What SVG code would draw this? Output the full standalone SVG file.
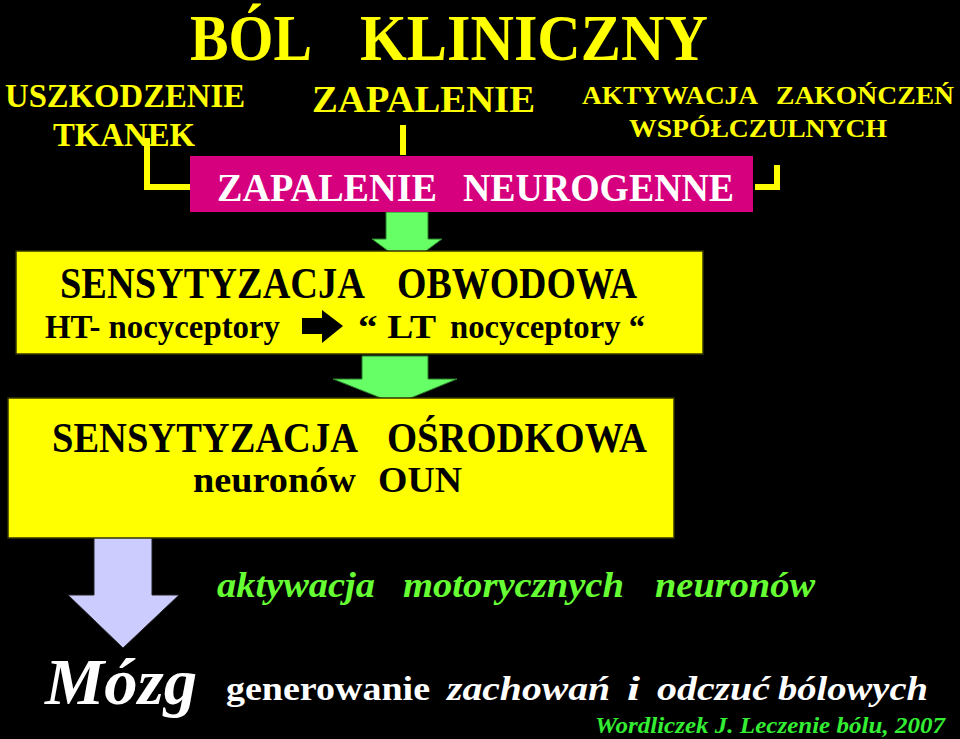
<svg xmlns="http://www.w3.org/2000/svg" width="960" height="739" viewBox="0 0 960 739" font-family="'Liberation Serif', 'DejaVu Serif', serif">
<style>
text{font-weight:bold}
.y{fill:#FFFF00}
.w{fill:#FFFFFF}
.k{fill:#000000}
.g{fill:#66FF33;font-style:italic}
.it{font-style:italic}
.box{fill:#FFFF00;stroke:#333300;stroke-width:1.5}
.garr{fill:#66FF66;stroke:#2a7a2a;stroke-width:1}
.conn{fill:none;stroke:#FFFF00;stroke-width:6}
</style>
<rect width="960" height="739" fill="#000"/>
<g id="title">
<text class="y" x="190" y="60" font-size="66" textLength="122" lengthAdjust="spacingAndGlyphs">BÓL</text>
<text class="y" x="360" y="60" font-size="66" textLength="348" lengthAdjust="spacingAndGlyphs">KLINICZNY</text>
</g>
<g id="uszkodzenie">
<text class="y" x="5" y="107" font-size="34" textLength="240" lengthAdjust="spacingAndGlyphs">USZKODZENIE</text>
<text class="y" x="53" y="146" font-size="34" textLength="142" lengthAdjust="spacingAndGlyphs">TKANEK</text>
</g>
<g id="zapalenie">
<text class="y" x="312" y="112" font-size="38" textLength="223" lengthAdjust="spacingAndGlyphs">ZAPALENIE</text>
</g>
<g id="aktywacja-zakonczen">
<text class="y" x="582" y="104" font-size="25" textLength="176" lengthAdjust="spacingAndGlyphs">AKTYWACJA</text>
<text class="y" x="776" y="104" font-size="25" textLength="178" lengthAdjust="spacingAndGlyphs">ZAKOŃCZEŃ</text>
<text class="y" x="629" y="137" font-size="25" textLength="258" lengthAdjust="spacingAndGlyphs">WSPÓŁCZULNYCH</text>
</g>
<g id="connectors">
<path class="conn" d="M147 138 V187 H190"/>
<path class="conn" d="M403 125 V155"/>
<path class="conn" d="M755 187 H777 V165"/>
<polygon class="garr" points="386,212 428,212 428,239 442,239 407,265 372,239 386,239"/>
<polygon class="garr" points="362,356 428,356 428,379 457,379 396,404 333,379 362,379"/>
<polygon fill="#CCCCFF" stroke="#222" stroke-width="1" points="94,537 152,537 152,595 179,595 123,648 68,595 94,595"/>
</g>
<g id="zapalenie-neurogenne">
<rect x="190" y="156" width="563" height="56" fill="#D6007F"/>
<text class="w" x="217" y="201" font-size="40" textLength="220" lengthAdjust="spacingAndGlyphs">ZAPALENIE</text>
<text class="w" x="463" y="201" font-size="40" textLength="271" lengthAdjust="spacingAndGlyphs">NEUROGENNE</text>
</g>
<g id="sensytyzacja-obwodowa">
<rect class="box" x="16" y="251" width="687" height="103"/>
<text class="k" x="60" y="298" font-size="45" textLength="305" lengthAdjust="spacingAndGlyphs">SENSYTYZACJA</text>
<text class="k" x="397" y="298" font-size="45" textLength="240" lengthAdjust="spacingAndGlyphs">OBWODOWA</text>
<text class="k" x="45" y="338" font-size="33" textLength="235" lengthAdjust="spacingAndGlyphs">HT- nocyceptory</text>
<polygon fill="#000" points="302,318 322,318 322,310 343,326 322,343 322,334 302,334"/>
<text class="k" x="358" y="338" font-size="33" textLength="78" lengthAdjust="spacingAndGlyphs">“ LT</text>
<text class="k" x="450" y="338" font-size="33" textLength="195" lengthAdjust="spacingAndGlyphs">nocyceptory “</text>
</g>
<g id="sensytyzacja-osrodkowa">
<rect class="box" x="8" y="398" width="666" height="140"/>
<text class="k" x="52" y="452" font-size="42" textLength="306" lengthAdjust="spacingAndGlyphs">SENSYTYZACJA</text>
<text class="k" x="387" y="452" font-size="42" textLength="260" lengthAdjust="spacingAndGlyphs">OŚRODKOWA</text>
<text class="k" x="193" y="492" font-size="36" textLength="163" lengthAdjust="spacingAndGlyphs">neuronów</text>
<text class="k" x="378" y="492" font-size="36" textLength="84" lengthAdjust="spacingAndGlyphs">OUN</text>
</g>
<g id="aktywacja-motorycznych">
<text class="g" x="217" y="597" font-size="36" textLength="158" lengthAdjust="spacingAndGlyphs">aktywacja</text>
<text class="g" x="403" y="597" font-size="36" textLength="221" lengthAdjust="spacingAndGlyphs">motorycznych</text>
<text class="g" x="655" y="597" font-size="36" textLength="160" lengthAdjust="spacingAndGlyphs">neuronów</text>
</g>
<g id="mozg">
<text class="w it" x="45" y="704" font-size="66" textLength="152" lengthAdjust="spacingAndGlyphs">Mózg</text>
<text class="w" x="226" y="700" font-size="34" textLength="204" lengthAdjust="spacingAndGlyphs">generowanie</text>
<text class="w it" x="447" y="700" font-size="34" textLength="163" lengthAdjust="spacingAndGlyphs">zachowań</text>
<text class="w it" x="627" y="700" font-size="34" textLength="13" lengthAdjust="spacingAndGlyphs">i</text>
<text class="w it" x="657" y="700" font-size="34" textLength="113" lengthAdjust="spacingAndGlyphs">odczuć</text>
<text class="w it" x="778" y="700" font-size="34" textLength="150" lengthAdjust="spacingAndGlyphs">bólowych</text>
</g>
<g id="citation">
<text x="595" y="733" font-size="24" fill="#33EE33" font-style="italic" textLength="350" lengthAdjust="spacingAndGlyphs">Wordliczek J. Leczenie bólu, 2007</text>
</g>
</svg>
